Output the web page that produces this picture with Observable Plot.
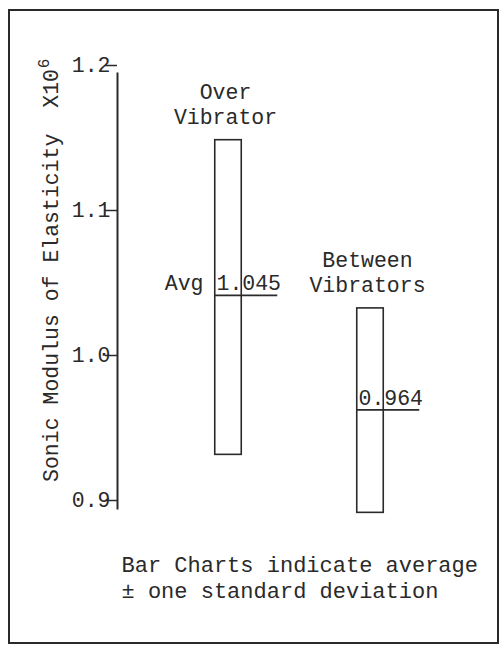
<!DOCTYPE html>
<html>
<head>
<meta charset="utf-8">
<script src="https://cdn.jsdelivr.net/npm/d3@7"></script>
<script src="https://cdn.jsdelivr.net/npm/@observablehq/plot@0.6"></script>
<style>
  html, body { margin: 0; padding: 0; background: #fff; }
  #wrap { position: relative; width: 500px; height: 645px; }
  #border { position: absolute; left: 8px; top: 9px; width: 491px; height: 635px;
            box-sizing: border-box; border: 2px solid #2a2a2a; pointer-events: none; }
</style>
</head>
<body>
<div id="wrap"><div id="border"></div></div>
<script>
// ---- data ----
const categories = ["Over Vibrator", "Between Vibrators"];
const categoryLabels = ["Over\nVibrator", "Between\nVibrators"];
const upperValues = [1.154, 1.038];   // average + one standard deviation
const lowerValues = [0.937, 0.897];   // average - one standard deviation
const averageValues = [1.047, 0.968]; // drawn average line
const averageLabels = ["1.045", "0.964"];
const yTicks = [0.9, 1.0, 1.1, 1.2];
const yLabel = "Sonic Modulus of Elasticity  X10";
const yLabelExponent = "6";
const captionText = "Bar Charts indicate average\n\u00b1 one standard deviation";

const data = categories.map((c, i) => ({
  cat: c, label: categoryLabels[i], hi: upperValues[i], lo: lowerValues[i],
  avg: averageValues[i], avgText: averageLabels[i]
}));

const ink = "#2a2a2a";
const font = "'Liberation Mono', 'DejaVu Sans Mono', monospace";

const chart = Plot.plot({
  width: 500,
  height: 645,
  marginTop: 73,
  marginBottom: 137,
  marginLeft: 117,
  marginRight: 58,
  style: { fontFamily: font, fontSize: "21.5px", color: ink, background: "transparent" },
  x: { type: "band", domain: categories, range: [156.75, 441.75], padding: 0, axis: null },
  y: { domain: [0.9, 1.2] },
  marks: [
    Plot.frame({ anchor: "left", stroke: ink, strokeWidth: 2 }),
    Plot.axisY({ ticks: yTicks, tickFormat: d3.format(".1f"), tickSize: 12, tickPadding: -5,
                 dy: -8, label: null, stroke: ink, strokeWidth: 1.5, fontSize: 21.5, fill: ink }),
    Plot.text([yLabel], { frameAnchor: "left", rotate: -90, dx: -66, dy: -15.5,
                          fontSize: 21.5, fill: ink, textAnchor: "middle" }),
    Plot.text([yLabelExponent], { frameAnchor: "top-left", rotate: -90, dx: -80, dy: -10,
                          fontSize: 16, fill: ink, textAnchor: "middle" }),
    Plot.barY(data, { x: "cat", y1: "lo", y2: "hi", fill: "none", stroke: ink, strokeWidth: 1.6,
                      insetLeft: 57.75, insetRight: 57.75 }),
    Plot.tickY(data, { x: "cat", y: "avg", stroke: ink, strokeWidth: 1.6,
                       insetLeft: 57.75, insetRight: 21.75 }),
    Plot.text(data, { x: "cat", y: "avg", text: "avgText", textAnchor: "start", lineAnchor: "bottom",
                      dx: -12, dy: -5, fill: ink, fontSize: 21.5 }),
    Plot.text(data.filter((d, i) => i === 0), { x: "cat", y: "avg", text: () => "Avg",
                      textAnchor: "end", lineAnchor: "bottom", dx: -25, dy: -5, fill: ink, fontSize: 21.5 }),
    Plot.text(data, { x: "cat", y: "hi", text: "label", textAnchor: "middle", lineAnchor: "bottom",
                      lineHeight: 1.16, dx: -3, dy: -16, fill: ink, fontSize: 21.5 }),
    Plot.text([captionText], { frameAnchor: "bottom-left", textAnchor: "start", lineAnchor: "bottom",
                      lineHeight: 1.16, dx: 4, dy: 89, fill: ink, fontSize: 22 })
  ]
});
chart.style.position = "absolute";
chart.style.left = "0px";
chart.style.top = "0px";
document.getElementById("wrap").appendChild(chart);
</script>
</body>
</html>
